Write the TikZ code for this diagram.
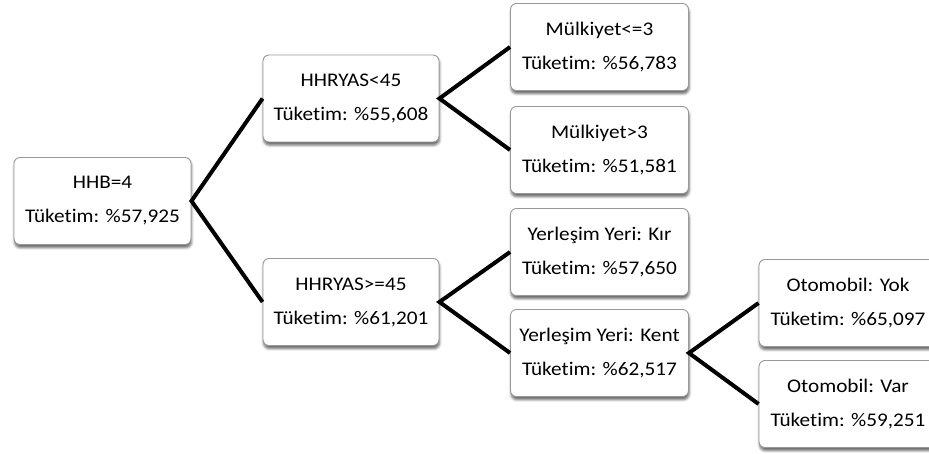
\documentclass[tikz,border=0pt]{standalone}
\usepackage{fontspec}
\setmainfont{Carlito}[FakeStretch=1.1, Ligatures={NoCommon}]
\usetikzlibrary{shadows.blur}
\begin{document}
\begin{tikzpicture}[x=1pt,y=-1pt,
  box/.style={draw=black!40, line width=0.9pt, fill=white, rounded corners=6pt,
    minimum width=#1, minimum height=87pt, inner sep=0pt, align=center,
    font=\fontsize{19.3}{34}\selectfont,
    blur shadow={shadow xshift=0.6pt, shadow yshift=-3.2pt, shadow blur radius=2.5pt, shadow opacity=60}},
  box/.default=177pt,
  link/.style={line width=4pt, black, line join=miter}]
\useasboundingbox (0,0) rectangle (929,454);

% level 0
\node[box=177pt] (root) at (102.5,201) {HHB=4\\Tüketim: \%57,925};

% level 1
\node[box=176pt] (lt45) at (351,98.5) {HHRYAS<45\\Tüketim: \%55,608};
\node[box=176pt] (ge45) at (351,302) {HHRYAS>=45\\Tüketim: \%61,201};

% level 2
\node[box=178pt] (m1) at (599.5,47) {Mülkiyet<=3\\Tüketim: \%56,783};
\node[box=178pt] (m2) at (599.5,150) {Mülkiyet>3\\Tüketim: \%51,581};
\node[box=178pt] (kir) at (599.5,252) {Yerleşim Yeri: Kır\\Tüketim: \%57,650};
\node[box=178pt] (kent) at (599.5,353) {Yerleşim Yeri: Kent\\Tüketim: \%62,517};

% level 3
\node[box=178pt] (yok) at (848,303) {Otomobil: Yok\\Tüketim: \%65,097};
\node[box=178pt] (var) at (848,404) {Otomobil: Var\\Tüketim: \%59,251};

% branches
\draw[link] (lt45.west) -- (root.east) -- (ge45.west);
\draw[link] (m1.west) -- (lt45.east) -- (m2.west);
\draw[link] (kir.west) -- (ge45.east) -- (kent.west);
\draw[link] (yok.west) -- (kent.east) -- (var.west);
\end{tikzpicture}
\end{document}
